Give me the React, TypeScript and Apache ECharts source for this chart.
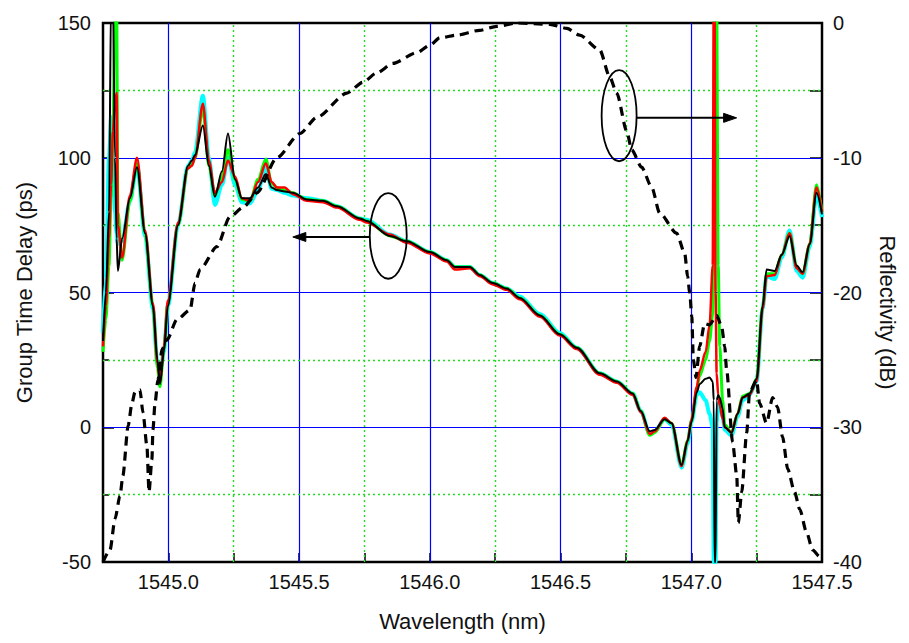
import React, { useEffect, useRef } from 'react';
import * as echarts from 'echarts';

// Group time delay curves (ps) sampled at shared wavelengths (nm)
const wavelength = [
  1544.750, 1544.761, 1544.773, 1544.781, 1544.788, 1544.796, 1544.802, 1544.807, 1544.823, 1544.853,
  1544.880, 1544.911, 1544.941, 1544.958, 1544.968, 1544.983, 1544.998, 1545.037, 1545.075, 1545.090,
  1545.102, 1545.132, 1545.155, 1545.178, 1545.205, 1545.228, 1545.255, 1545.281, 1545.312, 1545.343,
  1545.373, 1545.395, 1545.415, 1545.445, 1545.476, 1545.530, 1545.591, 1545.645, 1545.732, 1545.759,
  1545.847, 1545.912, 1546.000, 1546.065, 1546.096, 1546.153, 1546.191, 1546.241, 1546.294, 1546.344,
  1546.421, 1546.497, 1546.562, 1546.650, 1546.715, 1546.776, 1546.807, 1546.841, 1546.860, 1546.898,
  1546.925, 1546.963, 1546.986, 1547.001, 1547.021, 1547.032, 1547.055, 1547.070, 1547.082, 1547.086,
  1547.089, 1547.093, 1547.097, 1547.103, 1547.109, 1547.120, 1547.128, 1547.154, 1547.177, 1547.196,
  1547.223, 1547.250, 1547.273, 1547.288, 1547.319, 1547.346, 1547.376, 1547.403, 1547.426, 1547.453,
  1547.479, 1547.500,
];

const delayBlack = [
  32, 50, 80, 160, 160, 100, 70, 58, 70, 85,
  96.5, 72, 45, 25, 16, 28, 45, 75, 97, 99,
  101, 112, 97, 85.5, 95, 109, 92, 85, 85, 89,
  94, 89, 88, 87.5, 87, 84.5, 84, 82, 77.5, 76.5,
  71, 69, 65, 62, 59.5, 59.5, 56.5, 53.5, 51.5, 48,
  41.5, 34.5, 29.5, 20, 17, 12.5, 6, -1.5, -1, 3,
  1.5, -14, -5, 2, 13, 16, 18, 18.5, 17, 10,
  -50, -50, 10, 12, 11, 7, 0, -2, 5, 11,
  12.5, 18, 45, 58.5, 58, 64, 71, 60, 57.5, 68,
  87, 79,
];

const delayRed = [
  30, 45, 70, 90, 110, 120, 124, 75, 63, 86,
  100, 73, 46, 24, 17, 30, 47, 76, 96, 97,
  100, 120, 99, 87, 91, 99, 93, 85, 84, 91,
  98, 91, 89, 89, 86.5, 84, 83.5, 81.5, 77, 76,
  71.5, 68.5, 64.5, 61.5, 58.5, 59, 56, 53, 51, 47.5,
  41, 34, 29, 19.5, 16.5, 12, 5.5, -2.5, -1.5, 3.5,
  1.5, -14.5, -5, 3, 15, 21, 28, 38, 60, 160,
  160, 50, 20, 12, 8, 3, 0, -2, 5, 11,
  12, 17, 44, 56, 56.5, 64, 72, 59, 57, 68,
  89, 80,
];

const delayGreen = [
  28, 40, 60, 85, 110, 160, 160, 80, 62, 84,
  98, 72, 45, 22, 15, 29, 46, 75, 96, 97.5,
  100, 118, 97, 86, 93, 103, 92, 84.5, 84, 92,
  99.5, 90.5, 89, 88, 87, 84.5, 84, 82, 77.5, 76.5,
  71, 69, 65, 62, 59.5, 59.5, 56.5, 53.5, 51.5, 48,
  41.5, 34.5, 29.5, 20, 17, 12.5, 6, -3, -2, 3,
  1.5, -14, -5, 2.5, 14, 19, 25, 32, 42, 60,
  160, 160, 160, 60, 30, 10, 1, -2, 5, 11.5,
  12.5, 18, 45, 57, 57, 64, 72, 59.5, 57, 68,
  90, 80,
];

const delayCyan = [
  35, 55, 100, 115, 100, 80, 72, 68, 69, 84,
  97, 71, 44, 24, 20, 28, 45, 75, 97, 99,
  102, 123, 100, 82.5, 90, 100, 90, 83.5, 83, 88,
  96.5, 88.5, 88, 87, 86, 85, 84, 82, 77.5, 77,
  71.5, 69, 65, 62, 59.5, 59.5, 56.5, 53.5, 51.5, 48.5,
  42, 35, 29.5, 20, 17, 12.5, 6, -2.5, -1.5, 3,
  1, -15, -6, 2, 12, 13, 10, 5, 0, -50,
  -50, -50, 2, 8, 9, 4, -1, -3, 4, 10,
  12, 17, 44, 56, 55, 63, 73, 58, 55.5, 67,
  86, 78,
];

// Reflectivity (dB), dashed curve on the right axis
const reflWavelength = [
  1544.750, 1544.777, 1544.796, 1544.815, 1544.826, 1544.846, 1544.861, 1544.872, 1544.891, 1544.903,
  1544.918, 1544.926, 1544.937, 1544.941, 1544.949, 1544.960, 1544.976, 1544.995, 1545.033, 1545.083,
  1545.102, 1545.121, 1545.186, 1545.235, 1545.285, 1545.339, 1545.415, 1545.503, 1545.568, 1545.683,
  1545.744, 1545.797, 1545.859, 1545.950, 1546.000, 1546.038, 1546.103, 1546.191, 1546.256, 1546.333,
  1546.459, 1546.524, 1546.573, 1546.650, 1546.688, 1546.715, 1546.753, 1546.772, 1546.810, 1546.849,
  1546.879, 1546.944, 1546.975, 1546.986, 1546.994, 1547.002, 1547.008, 1547.018, 1547.032, 1547.051,
  1547.070, 1547.097, 1547.116, 1547.128, 1547.135, 1547.158, 1547.174, 1547.180, 1547.193, 1547.212,
  1547.223, 1547.250, 1547.261, 1547.288, 1547.311, 1547.330, 1547.349, 1547.369, 1547.395, 1547.415,
  1547.441, 1547.464, 1547.491, 1547.500,
];

const reflectivityDb = [
  -40, -39.1, -36.8, -35.1, -33.6, -29.9, -28.2, -27.4, -27.2, -28.9,
  -31.4, -34.8, -32.4, -30.2, -28.2, -26.5, -24.2, -23.5, -22.0, -21.3,
  -19.3, -18.3, -16.6, -14.4, -13.7, -12.6, -10.0, -8.2, -7.0, -5.2,
  -4.4, -3.7, -3.0, -2.2, -1.65, -1.1, -0.9, -0.54, -0.25, 0,
  -0.1, -0.4, -0.9, -2.0, -4.0, -5.2, -8.0, -9.4, -10.7, -12.2,
  -14.1, -15.6, -17.1, -18.8, -20.0, -21.8, -25.0, -26.3, -24.0, -22.3,
  -22.4, -21.7, -22.5, -24.0, -25.7, -31.1, -33.6, -37.1, -34.8, -30.4,
  -27.4, -26.5, -28.2, -29.7, -27.8, -28.5, -30.7, -33.1, -34.8, -36.1,
  -37.8, -39.1, -39.6, -39.8,
];

// Grid lines (major solid blue, minor dotted green)
const xMajorGrid = [1545.0, 1545.5, 1546.0, 1546.5, 1547.0];
const xMinorGrid = [1545.25, 1545.75, 1546.25, 1546.75, 1547.25];
const yMajorGrid = [100, 50, 0];
const yMinorGrid = [125, 75, 25, -25];

// Annotation ellipses (data units) and the arrows pointing to their axis
const ellipseWl = [1545.841, 1546.724];
const ellipseDelay = [71.0, 115.6];
const ellipseHalfWidthNm = [0.0707, 0.0669];
const ellipseHalfHeightPs = [15.9, 16.9];
const arrowFromWl = [1545.770, 1546.790];
const arrowToWl = [1545.476, 1547.1735];
const arrowDelay = [70.6, 114.8];

const FONT = "'Liberation Sans', Arial, Helvetica, sans-serif";
const BLUE = '#0000ff';
const GREEN = '#22dd22';

const pairs = (xs: number[], ys: number[]) => xs.map((x, i) => [x, ys[i]]);

export default function App() {
  const ref = useRef<HTMLDivElement>(null);

  useEffect(() => {
    if (!ref.current) return;
    const chart = echarts.init(ref.current, null, { renderer: 'svg' });

    const gdSeries = (name: string, data: number[], color: string, width: number, extra: any = {}) => ({
      name,
      type: 'line',
      xAxisIndex: 0,
      yAxisIndex: 0,
      data: pairs(wavelength, data),
      showSymbol: false,
      symbol: 'none',
      smooth: 0.3,
      smoothMonotone: 'x',
      clip: true,
      lineStyle: { color, width },
      z: 2,
      ...extra,
    });

    const major = { color: BLUE, type: 'solid', width: 1.2 };
    const minor = { color: GREEN, type: [2, 3], width: 1.4 };
    const gridMarkLines = {
      silent: true,
      symbol: ['none', 'none'],
      z: 1,
      animation: false,
      label: { show: false },
      emphasis: { disabled: true },
      data: [
        ...xMajorGrid.map((v) => ({ xAxis: v, lineStyle: major })),
        ...xMinorGrid.map((v) => ({ xAxis: v, lineStyle: minor })),
        ...yMajorGrid.map((v) => ({ yAxis: v, lineStyle: major })),
        ...yMinorGrid.map((v) => ({ yAxis: v, lineStyle: minor })),
      ],
    };

    chart.setOption({
      animation: false,
      backgroundColor: '#ffffff',
      grid: {
        left: 103,
        right: 87,
        top: 23,
        bottom: 81,
        show: true,
        borderColor: '#000',
        borderWidth: 2.5,
        backgroundColor: 'transparent',
      },
      xAxis: [
        {
          type: 'value',
          min: 1544.75,
          max: 1547.5,
          interval: 0.25,
          name: 'Wavelength (nm)',
          nameLocation: 'middle',
          nameGap: 48,
          nameTextStyle: { fontFamily: FONT, fontSize: 22, color: '#111' },
          axisLine: { show: false, onZero: false },
          axisTick: { show: true, inside: true, length: 9, lineStyle: { color: '#000', width: 1.5 } },
          axisLabel: {
            margin: 10,
            fontFamily: FONT,
            fontSize: 20,
            color: '#111',
            showMinLabel: false,
            formatter: (v: number) => {
              const r = Math.round(v * 2);
              if (Math.abs(v * 2 - r) > 1e-6 || v < 1544.9) return '';
              return v.toFixed(1);
            },
          },
          splitLine: { show: false },
        },
      ],
      yAxis: [
        {
          type: 'value',
          min: -50,
          max: 150,
          interval: 50,
          position: 'left',
          name: 'Group Time Delay (ps)',
          nameLocation: 'middle',
          nameRotate: 90,
          nameGap: 68,
          nameTextStyle: { fontFamily: FONT, fontSize: 22, color: '#111' },
          axisLine: { show: false, onZero: false },
          axisTick: { show: true, inside: true, length: 11, lineStyle: { color: '#000', width: 1.5 } },
          minorTick: { show: true, splitNumber: 2, length: 6, lineStyle: { color: '#000', width: 1.5 } },
          axisLabel: { margin: 12, fontFamily: FONT, fontSize: 20, color: '#111' },
          splitLine: { show: false },
          minorSplitLine: { show: false },
        },
        {
          type: 'value',
          min: -40,
          max: 0,
          interval: 10,
          position: 'right',
          name: 'Reflectivity (dB)',
          nameLocation: 'middle',
          nameRotate: -90,
          nameGap: 54,
          nameTextStyle: { fontFamily: FONT, fontSize: 22, color: '#111', padding: [0, 0, 0, 40] },
          axisLine: { show: false, onZero: false },
          axisTick: { show: true, inside: true, length: 12, lineStyle: { color: '#000', width: 1.5 } },
          minorTick: { show: true, splitNumber: 2, length: 12, lineStyle: { color: '#000', width: 1.5 } },
          axisLabel: { margin: 11, fontFamily: FONT, fontSize: 20, color: '#111' },
          splitLine: { show: false },
        },
      ],
      series: [
        gdSeries('Delay (cyan)', delayCyan, '#00ffff', 4, { markLine: gridMarkLines }),
        gdSeries('Delay (green)', delayGreen, '#00ff00', 3),
        gdSeries('Delay (red)', delayRed, '#ff0000', 2.5),
        gdSeries('Delay (black)', delayBlack, '#000000', 2),
        {
          name: 'Reflectivity',
          type: 'line',
          xAxisIndex: 0,
          yAxisIndex: 1,
          data: pairs(reflWavelength, reflectivityDb),
          showSymbol: false,
          symbol: 'none',
          smooth: 0.25,
          smoothMonotone: 'x',
          clip: true,
          lineStyle: { color: '#000', width: 3.2, type: [9, 6] },
          z: 3,
        },
      ],
    });

    const px = (x: number, y: number) => chart.convertToPixel({ seriesIndex: 3 }, [x, y]) as number[];
    const graphics: any[] = [];
    ellipseWl.forEach((w, i) => {
      const c = px(w, ellipseDelay[i]);
      const e = px(w + ellipseHalfWidthNm[i], ellipseDelay[i] + ellipseHalfHeightPs[i]);
      graphics.push({
        type: 'ellipse',
        silent: true,
        z: 100,
        shape: { cx: c[0], cy: c[1], rx: Math.abs(e[0] - c[0]), ry: Math.abs(e[1] - c[1]) },
        style: { fill: 'none', stroke: '#000', lineWidth: 1.8 },
      });
      const a = px(arrowFromWl[i], arrowDelay[i]);
      const b = px(arrowToWl[i], arrowDelay[i]);
      const dir = b[0] > a[0] ? 1 : -1;
      const headLen = 13;
      graphics.push({
        type: 'line',
        silent: true,
        z: 100,
        shape: { x1: a[0], y1: a[1], x2: b[0] - dir * headLen * 0.6, y2: b[1] },
        style: { stroke: '#000', lineWidth: 2 },
      });
      graphics.push({
        type: 'polygon',
        silent: true,
        z: 100,
        shape: {
          points: [
            [b[0], b[1]],
            [b[0] - dir * headLen, b[1] - 4.5],
            [b[0] - dir * headLen, b[1] + 4.5],
          ],
        },
        style: { fill: '#000', stroke: '#000', lineWidth: 1 },
      });
    });
    chart.setOption({ graphic: graphics });

    return () => chart.dispose();
  }, []);

  return (
    <div
      ref={ref}
      style={{ position: 'fixed', left: 0, top: 0, width: 909, height: 643, background: '#fff' }}
    />
  );
}
